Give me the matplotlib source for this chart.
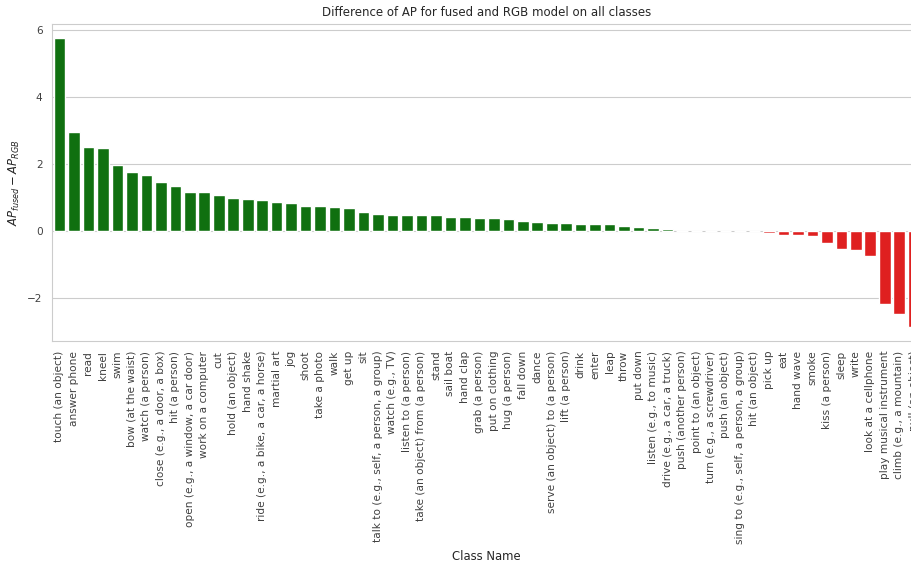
import matplotlib
matplotlib.use("Agg")
import matplotlib.pyplot as plt
import seaborn as sns

class_names = [
    "touch (an object)", "answer phone", "read", "kneel", "swim",
    "bow (at the waist)", "watch (a person)", "close (e.g., a door, a box)",
    "hit (a person)", "open (e.g., a window, a car door)", "work on a computer",
    "cut", "hold (an object)", "hand shake", "ride (e.g., a bike, a car, a horse)",
    "martial art", "jog", "shoot", "take a photo", "walk", "get up", "sit",
    "talk to (e.g., self, a person, a group)", "watch (e.g., TV)",
    "listen to (a person)", "take (an object) from (a person)", "stand",
    "sail boat", "hand clap", "grab (a person)", "put on clothing",
    "hug (a person)", "fall down", "dance", "serve (an object) to (a person)",
    "lift (a person)", "drink", "enter", "leap", "throw", "put down",
    "listen (e.g., to music)", "drive (e.g., a car, a truck)",
    "push (another person)", "point to (an object)", "turn (e.g., a screwdriver)",
    "push (an object)", "sing to (e.g., self, a person, a group)",
    "hit (an object)", "pick up", "eat", "hand wave", "smoke", "kiss (a person)",
    "sleep", "write", "look at a cellphone", "play musical instrument",
    "climb (e.g., a mountain)", "pull (an object)",
]

ap_diff = [
    5.76, 2.96, 2.51, 2.48, 1.98, 1.78, 1.69, 1.48, 1.36, 1.19,
    1.19, 1.10, 1.01, 0.96, 0.93, 0.87, 0.85, 0.76, 0.76, 0.73,
    0.70, 0.59, 0.53, 0.50, 0.50, 0.50, 0.50, 0.44, 0.44, 0.41,
    0.41, 0.38, 0.30, 0.27, 0.24, 0.24, 0.21, 0.21, 0.21, 0.15,
    0.12, 0.09, 0.06, 0.0, 0.0, 0.0, 0.0, 0.0, 0.0, -0.04,
    -0.11, -0.11, -0.14, -0.34, -0.52, -0.55, -0.73, -2.17, -2.46, -2.84,
]

sns.set_style("whitegrid")

fig = plt.figure(figsize=(9.12, 5.65), dpi=100)
# axes runs a little past the right edge, like the original crop
ax = fig.add_axes([0.0573, 0.3965, 0.9525, 0.561])

bar_colors = ["green" if v >= 0 else "red" for v in ap_diff]
sns.barplot(x=class_names, y=ap_diff, hue=class_names, palette=bar_colors,
            legend=False, ax=ax)

ax.set_title("Difference of AP for fused and RGB model on all classes", fontsize=8.5)
ax.set_xlabel("Class Name", fontsize=8.4)
ax.set_ylabel(r"$AP_{fused} - AP_{RGB}$", fontsize=8.4)
ax.tick_params(axis="x", labelrotation=90, labelsize=7.6, labelcolor="0.25")
ax.tick_params(axis="y", labelsize=7.6, labelcolor="0.25")
ax.set_xlim(-0.5, len(class_names) - 0.5)

fig.savefig("out.png", dpi=100)
